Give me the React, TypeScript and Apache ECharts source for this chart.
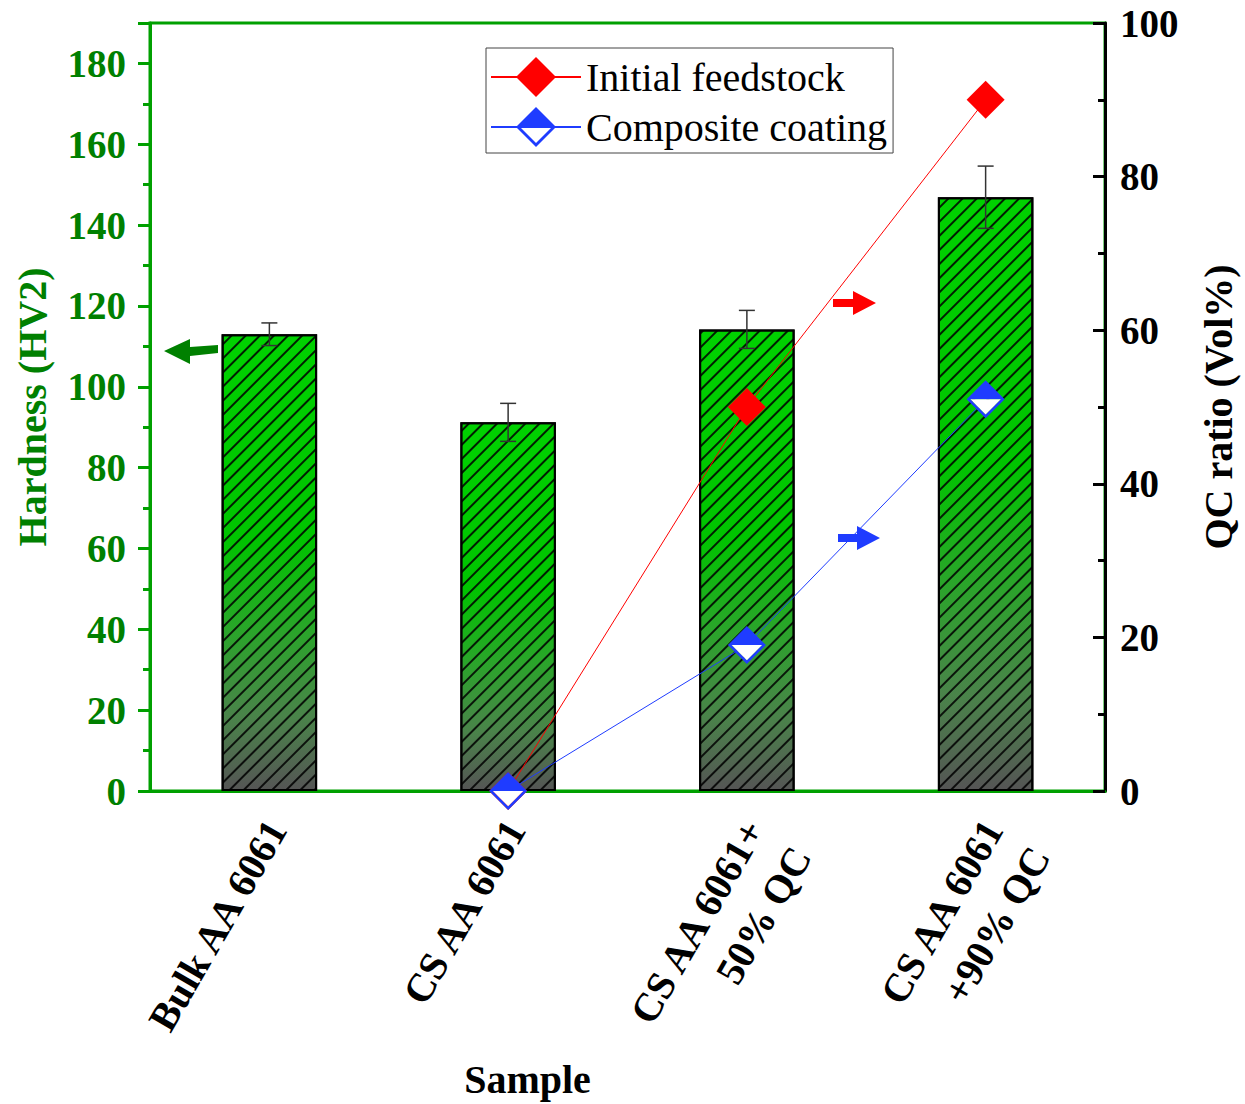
import React, { useEffect, useRef } from "react";
import * as echarts from "echarts";

const categories = ["Bulk AA 6061", "CS AA 6061", "CS AA 6061+\n50% QC", "CS AA 6061\n+90% QC"];
const hardness = [113, 91.2, 114.2, 146.9];
const hardnessErr = [2.8, 4.7, 4.7, 7.7];
const feedstock: (number | null)[] = [null, 0, 50, 90];
const coating: (number | null)[] = [null, 0, 19, 51];
const legendNames = ["Initial feedstock", "Composite coating"];

const FONT = "'Liberation Serif', 'Times New Roman', serif";
const GREEN_LINE = "#00a000";
const GREEN_TEXT = "#008000";
const RED = "#ff0000";
const BLUE = "#1f3cff";
const S = 38;
const K = 0.2;
const HALF_DIAMOND = `path://M1,0L2,1L1,2L0,1ZM${K},1L1,${2 - K}L${2 - K},1Z`;
const HOLE = "path://M0,0L2,0L1,1Z";

const labelFont = { fontFamily: FONT, fontSize: 40, fontWeight: "bold", color: "#000" };

export default function App() {
  const ref = useRef<HTMLDivElement>(null);
  useEffect(() => {
    if (!ref.current) return;
    const chart = echarts.init(ref.current, undefined, { renderer: "svg" });
    const errData = hardness.map((v, i) => [i, v - hardnessErr[i], v + hardnessErr[i]]);
    const holeData = coating.map((v, i) => (v == null ? null : [i, v])).filter((d) => d !== null);
    const option: any = {
      animation: false,
      backgroundColor: "#fff",
      grid: {
        left: 150,
        right: 140,
        top: 23,
        bottom: 313,
        outerBoundsMode: "none",
        containLabel: false,
        show: true,
        borderColor: GREEN_LINE,
        borderWidth: 3,
        backgroundColor: "transparent",
      },
      legend: {
        data: legendNames,
        orient: "vertical",
        left: 486,
        top: 48,
        itemWidth: 90,
        itemHeight: 50,
        itemGap: 10,
        padding: [9, 6, 6, 4],
        borderColor: "#444",
        borderWidth: 1,
        backgroundColor: "#fff",
        textStyle: { fontFamily: FONT, fontSize: 40, color: "#000" },
      },
      xAxis: {
        type: "category",
        data: categories,
        name: "Sample",
        nameLocation: "middle",
        nameGap: 268,
        nameMoveOverlap: false,
        nameTextStyle: {
          fontFamily: FONT,
          fontSize: 40,
          fontWeight: "bold",
          color: "#000",
          padding: [0, 200, 0, 0],
        },
        axisLine: { lineStyle: { color: GREEN_LINE, width: 3 } },
        axisTick: { alignWithLabel: true, length: 14, lineStyle: { color: GREEN_LINE, width: 3 } },
        axisLabel: {
          rotate: 60,
          margin: 12,
          ...labelFont,
          align: "right",
          verticalAlign: "top",
          padding: [0, 14, 0, 0],
          formatter: (v: string) => {
            const parts = v.split("\n");
            return parts.map((p, i) => (i === 0 ? `{a|${p}}` : `{b|${p}}`)).join("\n");
          },
          rich: {
            a: { ...labelFont, lineHeight: 33 },
            b: { ...labelFont, lineHeight: 75 },
          },
        },
      },
      yAxis: [
        {
          type: "value",
          min: 0,
          max: 190,
          interval: 20,
          position: "left",
          name: "Hardness (HV2)",
          nameLocation: "middle",
          nameRotate: 90,
          nameGap: 98,
          nameTextStyle: { fontFamily: FONT, fontSize: 40, fontWeight: "bold", color: GREEN_TEXT },
          axisLine: { show: true, lineStyle: { color: GREEN_LINE, width: 3 } },
          axisTick: { show: true, length: 12, lineStyle: { color: GREEN_LINE, width: 3 } },
          minorTick: { show: true, splitNumber: 2, length: 7, lineStyle: { color: GREEN_LINE, width: 3 } },
          splitLine: { show: false },
          axisLabel: {
            margin: 24,
            showMaxLabel: false,
            fontFamily: FONT,
            fontSize: 39,
            fontWeight: "bold",
            color: GREEN_TEXT,
            formatter: (v: number) => (v > 180 ? "" : String(v)),
          },
        },
        {
          type: "value",
          min: 0,
          max: 100,
          interval: 20,
          position: "right",
          name: "QC ratio (Vol%)",
          nameLocation: "middle",
          nameRotate: 90,
          nameGap: 93,
          nameTextStyle: { fontFamily: FONT, fontSize: 40, fontWeight: "bold", color: "#000" },
          axisLine: { show: true, lineStyle: { color: "#000", width: 3 } },
          axisTick: { show: true, inside: true, length: 12, lineStyle: { color: "#000", width: 3 } },
          minorTick: { show: true, splitNumber: 2, length: 7, lineStyle: { color: "#000", width: 3 } },
          splitLine: { show: false },
          axisLabel: {
            margin: 15,
            fontFamily: FONT,
            fontSize: 39,
            fontWeight: "bold",
            color: "#000",
          },
        },
      ],
      series: [
        {
          name: "Hardness",
          type: "bar",
          yAxisIndex: 0,
          data: hardness,
          barWidth: "40%",
          z: 2,
          itemStyle: {
            borderColor: "#000",
            borderWidth: 2,
            color: new echarts.graphic.LinearGradient(0, 0, 0, 1, [
              { offset: 0, color: "#00d200" },
              { offset: 0.45, color: "#00c400" },
              { offset: 0.65, color: "#2aa52a" },
              { offset: 0.84, color: "#4a834a" },
              { offset: 1, color: "#555555" },
            ]),
            decal: {
              symbol: "rect",
              symbolSize: 1,
              color: "rgba(0,0,0,0.85)",
              dashArrayX: [1, 0],
              dashArrayY: [2, 8],
              rotation: -Math.PI / 4,
            },
          },
        },
        {
          name: "Error",
          type: "custom",
          yAxisIndex: 0,
          z: 3,
          data: errData,
          encode: { x: 0, y: [1, 2] },
          renderItem: (params: any, api: any) => {
            const x = api.value(0);
            const top = api.coord([x, api.value(2)]);
            const bot = api.coord([x, api.value(1)]);
            const hw = 8;
            const st = { stroke: "#333", lineWidth: 1.5 };
            return {
              type: "group",
              children: [
                { type: "line", shape: { x1: top[0], y1: top[1], x2: bot[0], y2: bot[1] }, style: st },
                { type: "line", shape: { x1: top[0] - hw, y1: top[1], x2: top[0] + hw, y2: top[1] }, style: st },
                { type: "line", shape: { x1: bot[0] - hw, y1: bot[1], x2: bot[0] + hw, y2: bot[1] }, style: st },
              ],
            };
          },
        },
        {
          name: legendNames[0],
          type: "line",
          yAxisIndex: 1,
          data: feedstock.map((v) => (v == null ? "-" : v)),
          z: 4,
          symbol: "diamond",
          symbolSize: S,
          showAllSymbol: true,
          lineStyle: { color: RED, width: 1 },
          itemStyle: { color: RED, opacity: 1 },
        },
        {
          name: legendNames[1],
          type: "line",
          yAxisIndex: 1,
          data: coating.map((v) => (v == null ? "-" : v)),
          z: 5,
          symbol: HALF_DIAMOND,
          symbolSize: S,
          showAllSymbol: true,
          lineStyle: { color: BLUE, width: 1 },
          itemStyle: { color: BLUE, opacity: 1 },
        },
        {
          name: "hole",
          type: "scatter",
          yAxisIndex: 1,
          data: holeData,
          z: 6,
          symbol: HOLE,
          symbolSize: [S * (1 - K), (S / 2) * (1 - K)],
          symbolOffset: [0, (S / 2) * ((1 - K) / 2)],
          itemStyle: { color: "#ffffff", opacity: 1 },
          silent: true,
        },
      ],
      graphic: [
        {
          type: "polygon",
          shape: { points: [[164, 351], [190, 339], [190, 347], [218, 345], [218, 353], [190, 356], [190, 364]] },
          style: { fill: "#008000" },
          z: 10,
        },
        {
          type: "polygon",
          shape: { points: [[853, 291], [876, 303], [853, 315], [853, 307], [833, 307], [833, 299], [853, 299]] },
          style: { fill: RED },
          z: 10,
        },
        {
          type: "polygon",
          shape: { points: [[857, 526], [880, 538], [857, 550], [857, 542], [838, 542], [838, 534], [857, 534]] },
          style: { fill: BLUE },
          z: 10,
        },
      ],
    };
    chart.setOption(option);
    return () => chart.dispose();
  }, []);
  return <div ref={ref} style={{ width: 1245, height: 1104, position: "absolute", left: 0, top: 0 }} />;
}
